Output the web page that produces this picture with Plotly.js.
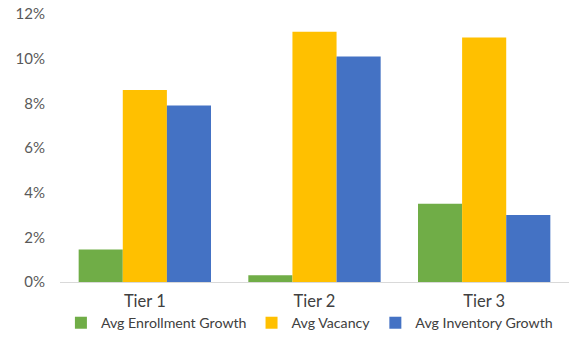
<!DOCTYPE html>
<html><head><meta charset="utf-8">
<script src="https://cdn.plot.ly/plotly-3.0.1.min.js"></script>
<style>html,body{margin:0;padding:0;background:#fff}#chart{width:569px;height:339px}</style>
</head><body><div id="chart"></div>
<script>
const categories = ["Tier 1", "Tier 2", "Tier 3"];
const enrollmentGrowth = [1.45, 0.3, 3.5];
const vacancy = [8.6, 11.2, 10.95];
const inventoryGrowth = [7.9, 10.1, 3.0];
const seriesNames = ["Avg Enrollment Growth", "Avg Vacancy", "Avg Inventory Growth"];
const colors = ["#70AD47", "#FFC000", "#4472C4"];
const yTicks = [0, 2, 4, 6, 8, 10, 12];

const seriesValues = [enrollmentGrowth, vacancy, inventoryGrowth];
const traces = seriesValues.map((v, i) => ({
  type: "bar", x: categories, y: v, name: seriesNames[i],
  marker: {color: colors[i]}, hoverinfo: "skip"
}));

const layout = {
  width: 569, height: 339,
  margin: {l: 60, r: 0, t: 14.5, b: 55.5},
  paper_bgcolor: "#fff", plot_bgcolor: "#fff",
  font: {family: "Lato, 'Open Sans', sans-serif", color: "#404040"},
  barmode: "group", bargap: 0.22, bargroupgap: 0,
  xaxis: {showline: true, linecolor: "#D9D9D9", linewidth: 1, ticks: "",
          tickfont: {size: 16.5, color: "#404040"}, showgrid: false, zeroline: false,
          ticklabelstandoff: 4},
  yaxis: {range: [0, 12], tickvals: yTicks, ticktext: yTicks.map(t => t + "%"),
          showgrid: false, zeroline: false, showline: false, ticks: "",
          tickfont: {size: 15, color: "#595959"}, ticklabelstandoff: 14},
  legend: {orientation: "h", x: 0.49, xanchor: "center", y: -0.155, yanchor: "middle",
           font: {size: 14.2, color: "#404040"}, itemwidth: 30, tracegroupgap: 0},
  showlegend: true
};
Plotly.newPlot("chart", traces, layout, {displayModeBar: false, staticPlot: true});
</script></body></html>
